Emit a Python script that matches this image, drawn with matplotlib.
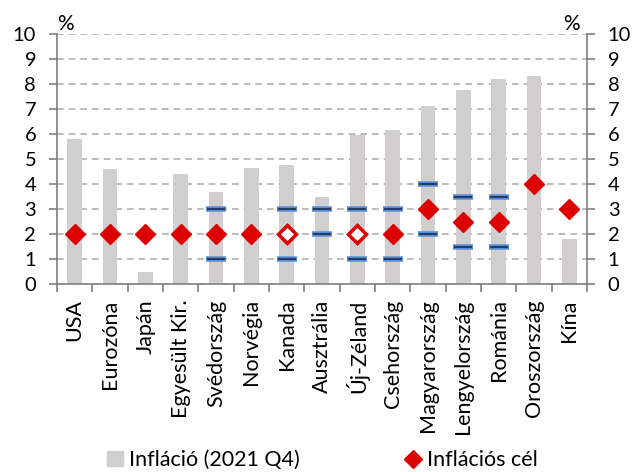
import numpy as np
import matplotlib.pyplot as plt
from matplotlib.lines import Line2D
from matplotlib.patches import Patch

# Data
countries = ['USA', 'Eurozóna', 'Japán', 'Egyesült Kir.', 'Svédország', 'Norvégia',
             'Kanada', 'Ausztrália', 'Új-Zéland', 'Csehország', 'Magyarország',
             'Lengyelország', 'Románia', 'Oroszország', 'Kína']
inflation = [5.8, 4.62, 0.5, 4.4, 3.7, 4.65, 4.75, 3.5, 5.95, 6.15, 7.1, 7.75, 8.2, 8.3, 1.8]
target = [2, 2, 2, 2, 2, 2, 2, np.nan, 2, 2, 3, 2.5, 2.5, 4, 3]
hollow = [False, False, False, False, False, False, True, False, True,
          False, False, False, False, False, False]
band_low = [np.nan, np.nan, np.nan, np.nan, 1, np.nan, 1, 2, 1, 1, 2, 1.5, 1.5, np.nan, np.nan]
band_high = [np.nan, np.nan, np.nan, np.nan, 3, np.nan, 3, 3, 3, 3, 4, 3.5, 3.5, np.nan, np.nan]

plt.rcParams['font.family'] = ['Lato', 'DejaVu Sans']
grey = '#7f7f7f'
red = '#dd0000'

fig = plt.figure(figsize=(6.36, 4.72), dpi=100)
ax = fig.add_axes([57/636, 1-284/472, 530/636, 250/472])
x = np.arange(len(countries))

ax.bar(x, inflation, width=0.42, color='#d0cece', zorder=2)

# tolerance bands
for lo_hi in (band_low, band_high):
    ax.plot(x, lo_hi, ls='none', marker='_', ms=15, mew=4, color='#5b8fd9', zorder=3)
    ax.plot(x, lo_hi, ls='none', marker='_', ms=12.5, mew=1.5, color='#1f3f66', zorder=4)

t = np.array(target, dtype=float)
h = np.array(hollow)
ax.plot(x[~h], t[~h], ls='none', marker='D', ms=10, color=red, zorder=5)
ax.plot(x[h], t[h], ls='none', marker='D', ms=9, mfc='white', mec=red, mew=2.5, zorder=5)

ax.set_xlim(-0.5, len(countries) - 0.5)
ax.set_ylim(0, 10)
ax.set_yticks(range(11))
ax.yaxis.grid(True, ls=(0, (4, 3)), color='#b0b0b0', lw=1.2, zorder=0)
ax.set_axisbelow(True)

ax.set_xticks(x)
ax.set_xticklabels(countries, rotation=90, fontsize=15.5)
ax.set_xticks(np.arange(-0.5, len(countries)), minor=True)
ax.tick_params(axis='x', which='major', length=0, pad=11)
ax.tick_params(axis='x', which='minor', length=6, color=grey, width=1.2)
ax.tick_params(axis='y', length=6, color=grey, width=1.2, labelsize=14.5, pad=9,
               left=True, right=True, labelleft=True, labelright=True)

for s in ['top']:
    ax.spines[s].set_visible(False)
for s in ['left', 'right', 'bottom']:
    ax.spines[s].set_color(grey)
    ax.spines[s].set_linewidth(1.2)

ax.text(0.0, 1.016, '%', transform=ax.transAxes, fontsize=15, ha='left', va='baseline')
ax.text(0.987, 1.016, '%', transform=ax.transAxes, fontsize=15, ha='right', va='baseline')

handles = [Patch(color='#d0cece', label='Infláció (2021 Q4)'),
           Line2D([], [], ls='none', marker='D', ms=9, color=red, label='Inflációs cél')]
fig.legend(handles=handles, loc='lower center', bbox_to_anchor=(0.507, -0.028), ncol=2,
           frameon=False, fontsize=15.5, columnspacing=4.9, handlelength=0.7,
           handletextpad=0.3, borderpad=0.2)

fig.savefig('out.png')
